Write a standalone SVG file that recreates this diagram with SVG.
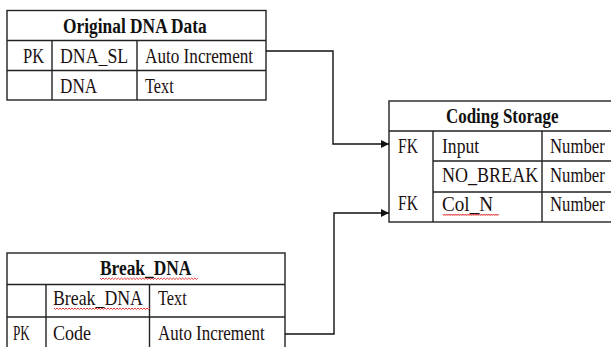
<svg xmlns="http://www.w3.org/2000/svg" width="611" height="347" viewBox="0 0 611 347">
  <defs>
    <marker id="arrow" viewBox="0 0 10 10" refX="10" refY="5" markerWidth="8" markerHeight="8" markerUnits="userSpaceOnUse" orient="auto">
      <path d="M0,0 L10,5 L0,10 Z" fill="#111"/>
    </marker>
    <path id="squiggle" d="M0,0 l1.5,1.5 l1.5,-1.5 l1.5,1.5 l1.5,-1.5 l1.5,1.5 l1.5,-1.5 l1.5,1.5 l1.5,-1.5 l1.5,1.5 l1.5,-1.5 l1.5,1.5 l1.5,-1.5 l1.5,1.5 l1.5,-1.5 l1.5,1.5 l1.5,-1.5 l1.5,1.5 l1.5,-1.5 l1.5,1.5 l1.5,-1.5 l1.5,1.5 l1.5,-1.5 l1.5,1.5 l1.5,-1.5 l1.5,1.5 l1.5,-1.5 l1.5,1.5 l1.5,-1.5 l1.5,1.5 l1.5,-1.5 l1.5,1.5 l1.5,-1.5 l1.5,1.5 l1.5,-1.5 l1.5,1.5 l1.5,-1.5 l1.5,1.5 l1.5,-1.5 l1.5,1.5 l1.5,-1.5 l1.5,1.5 l1.5,-1.5 l1.5,1.5 l1.5,-1.5 l1.5,1.5 l1.5,-1.5 l1.5,1.5 l1.5,-1.5 l1.5,1.5 l1.5,-1.5 l1.5,1.5 l1.5,-1.5 l1.5,1.5 l1.5,-1.5 l1.5,1.5 l1.5,-1.5 l1.5,1.5 l1.5,-1.5 l1.5,1.5 l1.5,-1.5 l1.5,1.5 l1.5,-1.5 l1.5,1.5 l1.5,-1.5"/>
  </defs>
  <style>
    .box { fill: #fff; stroke: #222; stroke-width: 1.4; }
    .grid { stroke: #222; stroke-width: 1.4; fill: none; }
    text { font-family: "Liberation Serif", "DejaVu Serif", "Times New Roman", serif; }
    .title { font-weight: bold; font-size: 22px; fill: #111; }
    .cell { font-size: 22px; fill: #1a1010; }
    .link { stroke: #111; stroke-width: 1.4; fill: none; }
    .spell { stroke: #e02020; stroke-width: 0.9; fill: none; }
  </style>

  <!-- Table: Original DNA Data (narrow serif faces are drawn with a horizontal squeeze) -->
  <g id="original-dna-data">
    <rect class="box" x="7" y="10.5" width="259" height="89.5"/>
    <path class="grid" d="M7,40.5 H266 M7,70.5 H266 M52,40.5 V100 M137,40.5 V100"/>
    <text class="title" transform="translate(63,33) scale(0.79,1)">Original DNA Data</text>
    <text class="cell" transform="translate(23,63) scale(0.75,1)">PK</text>
    <text class="cell" transform="translate(60,63) scale(0.81,1)">DNA_SL</text>
    <text class="cell" transform="translate(145,63) scale(0.78,1)">Auto Increment</text>
    <text class="cell" transform="translate(60,93) scale(0.78,1)">DNA</text>
    <text class="cell" transform="translate(145,93) scale(0.74,1)">Text</text>
  </g>

  <!-- Table: Coding Storage (runs off the right edge) -->
  <g id="coding-storage">
    <rect class="box" x="389" y="101" width="223" height="121"/>
    <path class="grid" d="M389,131 H612 M433,161 H612 M433,192 H612 M433,131 V222 M542,131 V222"/>
    <text class="title" transform="translate(446,123) scale(0.77,1)">Coding Storage</text>
    <text class="cell" transform="translate(398,153) scale(0.71,1)">FK</text>
    <text class="cell" transform="translate(398,210) scale(0.71,1)">FK</text>
    <text class="cell" transform="translate(442,153) scale(0.8,1)">Input</text>
    <text class="cell" transform="translate(442,182) scale(0.82,1)">NO_BREAK</text>
    <text class="cell" transform="translate(442,211) scale(0.87,1)">Col_N</text>
    <use class="spell" href="#squiggle" transform="translate(443,214) scale(0.58,1)"/>
    <text class="cell" transform="translate(550,153) scale(0.76,1)">Number</text>
    <text class="cell" transform="translate(550,182) scale(0.76,1)">Number</text>
    <text class="cell" transform="translate(550,211) scale(0.76,1)">Number</text>
  </g>

  <!-- Table: Break_DNA (runs off the bottom edge) -->
  <g id="break-dna">
    <rect class="box" x="7" y="253" width="278" height="100"/>
    <path class="grid" d="M7,284.5 H285 M7,317 H285 M46,284.5 V353 M149.5,284.5 V353"/>
    <text class="title" transform="translate(100,275) scale(0.79,1)">Break_DNA</text>
    <use class="spell" href="#squiggle" transform="translate(100,278) scale(1.02,1)"/>
    <text class="cell" transform="translate(53,305) scale(0.81,1)">Break_DNA</text>
    <use class="spell" href="#squiggle" transform="translate(54,308)"/>
    <text class="cell" transform="translate(158,305) scale(0.74,1)">Text</text>
    <text class="cell" transform="translate(13,340) scale(0.6,1)">PK</text>
    <text class="cell" transform="translate(53,340) scale(0.82,1)">Code</text>
    <text class="cell" transform="translate(158,340) scale(0.77,1)">Auto Increment</text>
  </g>

  <!-- Foreign-key connectors -->
  <g id="connectors">
    <path class="link" d="M266,51 H333 V144 H389" marker-end="url(#arrow)"/>
    <path class="link" d="M285,334 H334 V213 H389" marker-end="url(#arrow)"/>
  </g>
</svg>
